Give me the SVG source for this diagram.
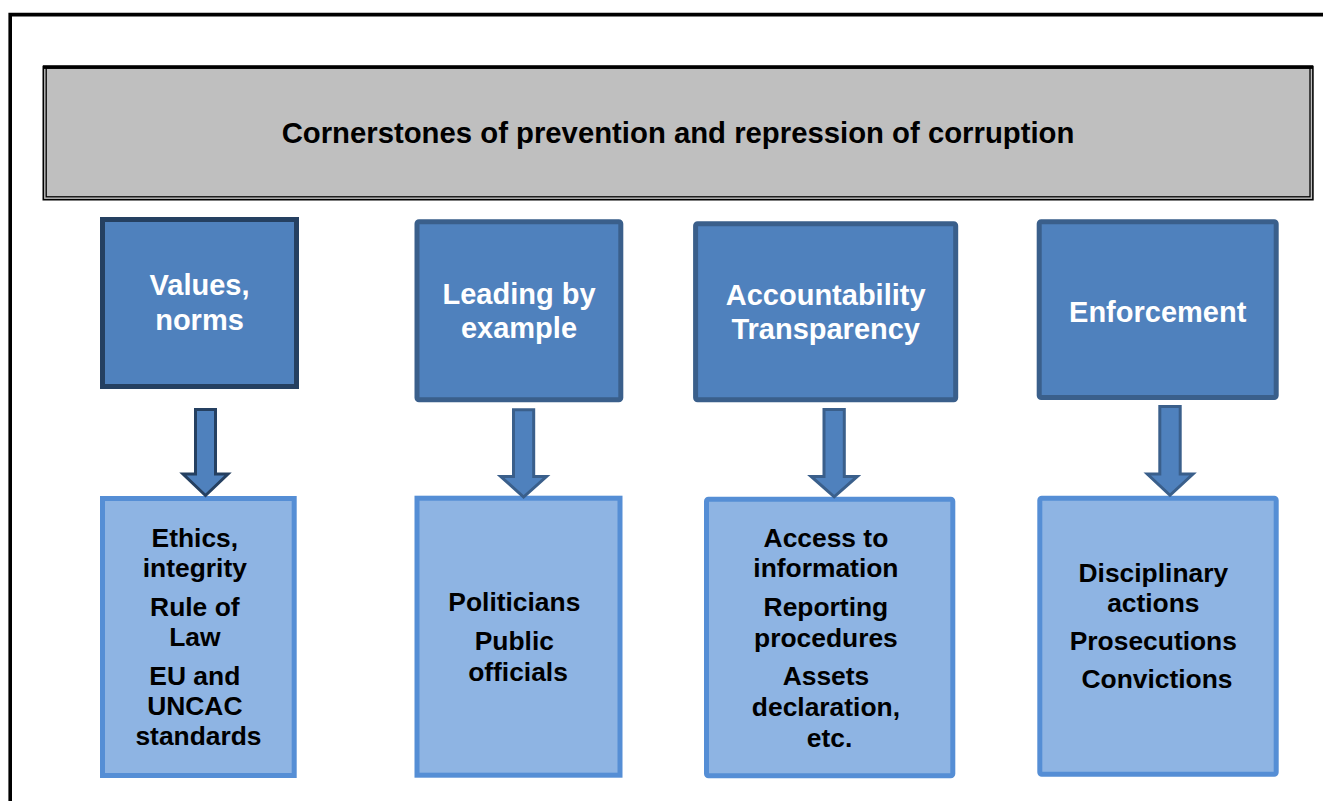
<svg xmlns="http://www.w3.org/2000/svg" width="1323" height="801" viewBox="0 0 1323 801">
  <style>
    text { font-family: "Liberation Sans", Arial, sans-serif; font-weight: bold; text-anchor: middle; }
    .frame { fill: none; stroke: #000; }
    .pillar { fill: #4f81bd; stroke: #3a5f8b; stroke-width: 5; }
    .pillar.dark { stroke: #254061; }
    .pillar-label { fill: #fff; font-size: 29px; }
    .detail { fill: #8eb4e3; stroke: #558ed5; stroke-width: 5; }
    .detail-label { fill: #000; font-size: 26.4px; }
    .arrow { fill: #4f81bd; stroke: #3a5f8b; stroke-width: 3; stroke-linejoin: miter; }
    .arrow.dark { stroke: #254061; }
  </style>

  <rect width="1323" height="801" fill="#fff"/>

  <!-- page frame (open to the right and bottom) -->
  <path class="frame" d="M10.2,801 V14.6 H1323" stroke-width="3.6"/>

  <!-- title banner with double rule -->
  <g id="title">
    <rect x="44" y="66" width="1268" height="133" fill="#bfbfbf"/>
    <rect class="frame" x="43.3" y="66.5" width="1269.6" height="133.2" stroke-width="1.6"/>
    <rect class="frame" x="46.2" y="67.8" width="1263.8" height="129" stroke-width="1.3"/>
    <rect x="43" y="65.3" width="1270" height="3.6" fill="#000"/>
    <text x="678" y="142.5" font-size="29.3px" fill="#000">Cornerstones of prevention and repression of corruption</text>
  </g>

  <!-- pillars -->
  <g id="pillar-values">
    <rect class="pillar dark" x="102.5" y="219.5" width="194" height="167"/>
    <text class="pillar-label"><tspan x="199.5" y="295">Values,</tspan><tspan x="199.5" y="330">norms</tspan></text>
  </g>
  <g id="pillar-leading">
    <rect class="pillar" x="417" y="221.8" width="203.8" height="178" rx="2"/>
    <text class="pillar-label"><tspan x="519" y="304">Leading by</tspan><tspan x="519" y="338">example</tspan></text>
  </g>
  <g id="pillar-accountability">
    <rect class="pillar" x="695.6" y="223.8" width="260.1" height="176" rx="2"/>
    <text class="pillar-label"><tspan x="825.7" y="305">Accountability</tspan><tspan x="825.7" y="339">Transparency</tspan></text>
  </g>
  <g id="pillar-enforcement">
    <rect class="pillar" x="1039.2" y="221.8" width="237" height="175.7" rx="2"/>
    <text class="pillar-label" x="1157.7" y="321.7">Enforcement</text>
  </g>

  <!-- detail boxes -->
  <g id="detail-values">
    <rect class="detail" x="102.5" y="498.5" width="191.7" height="277"/>
    <text class="detail-label">
      <tspan x="198.5" y="547">Ethics,</tspan>
      <tspan x="198.5" y="577">integrity</tspan>
      <tspan x="198.5" y="616">Rule of</tspan>
      <tspan x="198.5" y="646">Law</tspan>
      <tspan x="198.5" y="685">EU and</tspan>
      <tspan x="198.5" y="715">UNCAC</tspan>
      <tspan x="198.5" y="745">standards</tspan>
    </text>
  </g>
  <g id="detail-leading">
    <rect class="detail" x="417" y="498.2" width="203" height="277"/>
    <text class="detail-label">
      <tspan x="518" y="611">Politicians</tspan>
      <tspan x="518" y="650">Public</tspan>
      <tspan x="518" y="680.5">officials</tspan>
    </text>
  </g>
  <g id="detail-accountability">
    <rect class="detail" x="706.5" y="499.2" width="246.3" height="276.6" rx="2"/>
    <text class="detail-label">
      <tspan x="829.6" y="546.5">Access to</tspan>
      <tspan x="829.6" y="577">information</tspan>
      <tspan x="829.6" y="616">Reporting</tspan>
      <tspan x="829.6" y="646.5">procedures</tspan>
      <tspan x="829.6" y="685">Assets</tspan>
      <tspan x="829.6" y="716">declaration,</tspan>
      <tspan x="829.6" y="747">etc.</tspan>
    </text>
  </g>
  <g id="detail-enforcement">
    <rect class="detail" x="1039.8" y="498.2" width="236.4" height="276" rx="2"/>
    <text class="detail-label">
      <tspan x="1157" y="581.7">Disciplinary</tspan>
      <tspan x="1157" y="611.7">actions</tspan>
      <tspan x="1157" y="650">Prosecutions</tspan>
      <tspan x="1157" y="688.3">Convictions</tspan>
    </text>
  </g>

  <!-- block arrows from each pillar down to its details -->
  <g id="connectors">
    <path class="arrow dark" d="M195.5,409.5 H215.5 V474 H228 L205.5,495.5 L183,474 H195.5 Z"/>
    <path class="arrow" d="M513.5,409.8 H533.7 V476.5 H546.5 L523.6,497 L500.7,476.5 H513.5 Z"/>
    <path class="arrow" d="M824,409.5 H844.3 V476.5 H857.3 L834.2,496.8 L811.1,476.5 H824 Z"/>
    <path class="arrow" d="M1159.8,406.5 H1180.2 V474 H1193 L1170,495.3 L1147.3,474 H1159.8 Z"/>
  </g>
</svg>
